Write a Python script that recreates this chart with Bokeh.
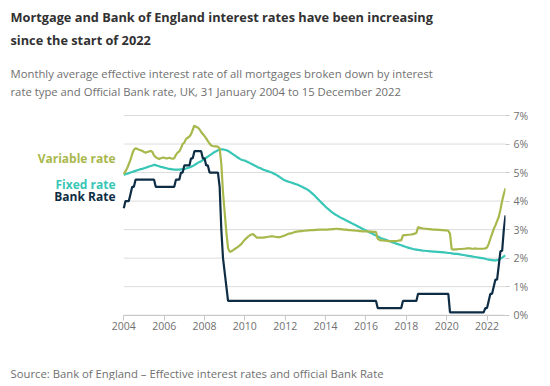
from bokeh.plotting import figure
from bokeh.models import Label, FixedTicker, Range1d, ColumnDataSource, CustomJSTickFormatter
from bokeh.embed import file_html
from bokeh.resources import INLINE

# Monthly values, January 2004 to December 2022 (one row per year)
start_year = 2004

variable_rate = [
    4.95, 5.05, 5.15, 5.30, 5.45, 5.65, 5.80, 5.85, 5.83, 5.80, 5.78, 5.76,  # 2004
    5.72, 5.70, 5.72, 5.74, 5.76, 5.72, 5.60, 5.54, 5.50, 5.48, 5.50, 5.52,  # 2005
    5.52, 5.50, 5.50, 5.52, 5.50, 5.49, 5.50, 5.62, 5.70, 5.74, 5.85, 6.00,  # 2006
    6.05, 6.18, 6.22, 6.26, 6.35, 6.50, 6.65, 6.60, 6.58, 6.52, 6.42, 6.35,  # 2007
    6.28, 6.20, 6.10, 6.02, 5.95, 5.93, 5.92, 5.92, 5.90, 5.85, 5.30, 4.30,  # 2008
    3.60, 2.90, 2.35, 2.22, 2.24, 2.28, 2.32, 2.36, 2.40, 2.45, 2.50, 2.58,  # 2009
    2.65, 2.70, 2.76, 2.80, 2.83, 2.84, 2.78, 2.72, 2.72, 2.72, 2.72, 2.72,  # 2010
    2.73, 2.74, 2.75, 2.76, 2.76, 2.76, 2.75, 2.74, 2.74, 2.74, 2.76, 2.78,  # 2011
    2.80, 2.83, 2.86, 2.86, 2.88, 2.90, 2.92, 2.93, 2.94, 2.95, 2.95, 2.96,  # 2012
    2.96, 2.97, 2.97, 2.98, 2.98, 2.98, 2.99, 2.99, 3.00, 3.00, 3.00, 3.00,  # 2013
    3.00, 3.00, 3.01, 3.01, 3.02, 3.02, 3.03, 3.03, 3.02, 3.02, 3.01, 3.00,  # 2014
    3.00, 2.99, 2.98, 2.98, 2.97, 2.97, 2.96, 2.96, 2.95, 2.95, 2.94, 2.94,  # 2015
    2.94, 2.94, 2.93, 2.93, 2.92, 2.92, 2.92, 2.68, 2.64, 2.62, 2.62, 2.61,  # 2016
    2.61, 2.60, 2.60, 2.60, 2.60, 2.60, 2.60, 2.61, 2.62, 2.62, 2.80, 2.81,  # 2017
    2.81, 2.82, 2.82, 2.83, 2.84, 2.86, 2.88, 3.09, 3.06, 3.05, 3.04, 3.03,  # 2018
    3.03, 3.02, 3.02, 3.01, 3.00, 3.00, 3.00, 2.99, 2.99, 2.98, 2.98, 2.97,  # 2019
    2.97, 2.96, 2.85, 2.32, 2.30, 2.31, 2.31, 2.32, 2.32, 2.32, 2.33, 2.33,  # 2020
    2.34, 2.34, 2.34, 2.33, 2.33, 2.34, 2.33, 2.33, 2.33, 2.33, 2.33, 2.34,  # 2021
    2.37, 2.50, 2.68, 2.85, 3.02, 3.15, 3.30, 3.45, 3.70, 4.00, 4.25, 4.45,  # 2022
]

fixed_rate = [
    4.92, 4.94, 4.96, 4.98, 5.00, 5.02, 5.04, 5.06, 5.08, 5.10, 5.12, 5.13,  # 2004
    5.15, 5.17, 5.19, 5.21, 5.23, 5.25, 5.27, 5.26, 5.24, 5.22, 5.20, 5.19,  # 2005
    5.17, 5.16, 5.14, 5.13, 5.12, 5.11, 5.10, 5.10, 5.10, 5.10, 5.11, 5.12,  # 2006
    5.13, 5.14, 5.16, 5.18, 5.20, 5.23, 5.26, 5.30, 5.34, 5.37, 5.40, 5.44,  # 2007
    5.48, 5.52, 5.56, 5.60, 5.64, 5.68, 5.72, 5.75, 5.78, 5.80, 5.81, 5.81,  # 2008
    5.80, 5.78, 5.76, 5.72, 5.68, 5.64, 5.60, 5.56, 5.52, 5.48, 5.45, 5.43,  # 2009
    5.42, 5.39, 5.36, 5.33, 5.30, 5.27, 5.24, 5.21, 5.18, 5.16, 5.13, 5.10,  # 2010
    5.08, 5.06, 5.04, 5.02, 5.00, 4.97, 4.94, 4.91, 4.87, 4.83, 4.79, 4.75,  # 2011
    4.72, 4.70, 4.68, 4.66, 4.64, 4.62, 4.60, 4.58, 4.56, 4.53, 4.50, 4.47,  # 2012
    4.44, 4.41, 4.37, 4.32, 4.27, 4.22, 4.16, 4.10, 4.04, 3.98, 3.92, 3.86,  # 2013
    3.80, 3.75, 3.70, 3.65, 3.60, 3.56, 3.52, 3.49, 3.45, 3.42, 3.39, 3.36,  # 2014
    3.33, 3.30, 3.27, 3.24, 3.21, 3.18, 3.15, 3.12, 3.09, 3.06, 3.03, 3.00,  # 2015
    2.97, 2.94, 2.91, 2.88, 2.85, 2.82, 2.79, 2.76, 2.73, 2.70, 2.68, 2.66,  # 2016
    2.64, 2.62, 2.60, 2.57, 2.55, 2.53, 2.51, 2.49, 2.47, 2.45, 2.43, 2.41,  # 2017
    2.39, 2.37, 2.35, 2.34, 2.32, 2.31, 2.30, 2.29, 2.28, 2.27, 2.26, 2.26,  # 2018
    2.25, 2.25, 2.24, 2.24, 2.23, 2.23, 2.22, 2.22, 2.21, 2.21, 2.20, 2.20,  # 2019
    2.19, 2.18, 2.18, 2.17, 2.16, 2.15, 2.15, 2.14, 2.13, 2.12, 2.11, 2.10,  # 2020
    2.09, 2.08, 2.07, 2.06, 2.05, 2.04, 2.03, 2.02, 2.01, 2.00, 1.99, 1.98,  # 2021
    1.96, 1.95, 1.94, 1.93, 1.92, 1.92, 1.93, 1.95, 1.98, 2.02, 2.06, 2.10,  # 2022
]

bank_rate = [
    3.75, 4.00, 4.00, 4.00, 4.25, 4.50, 4.50, 4.75, 4.75, 4.75, 4.75, 4.75,  # 2004
    4.75, 4.75, 4.75, 4.75, 4.75, 4.75, 4.75, 4.50, 4.50, 4.50, 4.50, 4.50,  # 2005
    4.50, 4.50, 4.50, 4.50, 4.50, 4.50, 4.50, 4.75, 4.75, 4.75, 5.00, 5.00,  # 2006
    5.25, 5.25, 5.25, 5.25, 5.50, 5.50, 5.75, 5.75, 5.75, 5.75, 5.75, 5.50,  # 2007
    5.50, 5.25, 5.25, 5.00, 5.00, 5.00, 5.00, 5.00, 5.00, 4.50, 3.00, 2.00,  # 2008
    1.50, 1.00, 0.50, 0.50, 0.50, 0.50, 0.50, 0.50, 0.50, 0.50, 0.50, 0.50,  # 2009
    0.50, 0.50, 0.50, 0.50, 0.50, 0.50, 0.50, 0.50, 0.50, 0.50, 0.50, 0.50,  # 2010
    0.50, 0.50, 0.50, 0.50, 0.50, 0.50, 0.50, 0.50, 0.50, 0.50, 0.50, 0.50,  # 2011
    0.50, 0.50, 0.50, 0.50, 0.50, 0.50, 0.50, 0.50, 0.50, 0.50, 0.50, 0.50,  # 2012
    0.50, 0.50, 0.50, 0.50, 0.50, 0.50, 0.50, 0.50, 0.50, 0.50, 0.50, 0.50,  # 2013
    0.50, 0.50, 0.50, 0.50, 0.50, 0.50, 0.50, 0.50, 0.50, 0.50, 0.50, 0.50,  # 2014
    0.50, 0.50, 0.50, 0.50, 0.50, 0.50, 0.50, 0.50, 0.50, 0.50, 0.50, 0.50,  # 2015
    0.50, 0.50, 0.50, 0.50, 0.50, 0.50, 0.50, 0.25, 0.25, 0.25, 0.25, 0.25,  # 2016
    0.25, 0.25, 0.25, 0.25, 0.25, 0.25, 0.25, 0.25, 0.25, 0.25, 0.50, 0.50,  # 2017
    0.50, 0.50, 0.50, 0.50, 0.50, 0.50, 0.50, 0.75, 0.75, 0.75, 0.75, 0.75,  # 2018
    0.75, 0.75, 0.75, 0.75, 0.75, 0.75, 0.75, 0.75, 0.75, 0.75, 0.75, 0.75,  # 2019
    0.75, 0.75, 0.10, 0.10, 0.10, 0.10, 0.10, 0.10, 0.10, 0.10, 0.10, 0.10,  # 2020
    0.10, 0.10, 0.10, 0.10, 0.10, 0.10, 0.10, 0.10, 0.10, 0.10, 0.10, 0.25,  # 2021
    0.25, 0.50, 0.75, 0.75, 1.00, 1.25, 1.25, 1.75, 2.25, 2.25, 3.00, 3.50,  # 2022
]

year_ticks = [2004, 2006, 2008, 2010, 2012, 2014, 2016, 2018, 2020, 2022]
pct_ticks = [0, 1, 2, 3, 4, 5, 6, 7]

title_lines = ["Mortgage and Bank of England interest rates have been increasing",
               "since the start of 2022"]
subtitle_lines = ["Monthly average effective interest rate of all mortgages broken down by interest",
                  "rate type and Official Bank rate, UK, 31 January 2004 to 15 December 2022"]
source_text = "Source: Bank of England \u2013 Effective interest rates and official Bank Rate"

# x positions: month index -> fractional year
months = [start_year + i / 12 for i in range(len(bank_rate))]

C_VAR = "#a9b84c"
C_FIX = "#38c6b6"
C_BANK = "#0e2d45"
GREY = "#707070"
FONT = "Open Sans"

W, H = 534, 380
# chart area (figure pixels): where Jan 2004 / Dec 2022 and 0% / 7% fall
PX_L, PX_R = 123.3, 505
PY_TOP, PY_BOT = 115, 314.7
FW, FH = PX_R, H                 # frame covers figure from (0,0) to the right axis

x0, x1 = months[0], months[-1]
kx = (x1 - x0) / (PX_R - PX_L)
ky = 7.0 / (PY_BOT - PY_TOP)
xs = x0 - PX_L * kx
ye = 7.0 + PY_TOP * ky
ys = 7.0 - (FH - PY_TOP) * ky

p = figure(frame_width=int(FW), frame_height=FH, output_backend="svg", toolbar_location=None,
           x_range=Range1d(xs, x1), y_range=Range1d(ys, ye),
           y_axis_location="right", min_border_left=0, min_border_right=W - int(FW),
           min_border_top=0, min_border_bottom=0, title=None)
p.outline_line_color = None
p.background_fill_color = "white"
p.border_fill_color = "white"

# horizontal gridlines only over the data area
p.segment(x0=[x0] * len(pct_ticks), x1=[x1] * len(pct_ticks), y0=pct_ticks, y1=pct_ticks,
          line_color="#dcdcdc", line_width=1)

src = ColumnDataSource(dict(x=months, var=variable_rate, fix=fixed_rate, bank=bank_rate))
p.line("x", "fix", source=src, color=C_FIX, line_width=2.2)
p.line("x", "var", source=src, color=C_VAR, line_width=2.2)
p.line("x", "bank", source=src, color=C_BANK, line_width=2.2)

p.xgrid.visible = False
p.ygrid.visible = False

xa = p.xaxis[0]
xa.fixed_location = 0
xa.ticker = FixedTicker(ticks=year_ticks)
xa.bounds = (x0, x1)
xa.axis_line_color = "#c8c8c8"
xa.major_tick_line_color = "#c8c8c8"
xa.major_tick_out = 5
xa.major_tick_in = 0
xa.minor_tick_line_color = None
xa.major_label_text_font = FONT
xa.major_label_text_font_size = "10.5px"
xa.major_label_text_color = GREY
xa.major_label_standoff = 2

ya = p.yaxis[0]
ya.ticker = FixedTicker(ticks=pct_ticks)
ya.bounds = (0, 7)
ya.formatter = CustomJSTickFormatter(code="return tick + '%';")
ya.axis_line_color = None
ya.major_tick_line_color = "#c8c8c8"
ya.major_tick_out = 4
ya.major_tick_in = 0
ya.minor_tick_line_color = None
ya.major_label_text_font = FONT
ya.major_label_text_font_size = "10.5px"
ya.major_label_text_color = GREY
ya.major_label_standoff = 4


def dx(px):
    return xs + px * kx


def dy(py):
    return ye - py * ky


def add_text(txt, px, py, size, color, style="normal", align="left", base="alphabetic"):
    p.add_layout(Label(x=dx(px), y=dy(py), text=txt, text_font=FONT,
                       text_font_size=size, text_color=color, text_font_style=style,
                       text_align=align, text_baseline=base))


add_text(title_lines[0], 10, 16.5, "12.75px", "#323132", "bold")
add_text(title_lines[1], 10, 39.5, "12.75px", "#323132", "bold")
add_text(subtitle_lines[0], 10, 73, "11.3px", GREY)
add_text(subtitle_lines[1], 10, 90.5, "11.3px", GREY)
add_text(source_text, 10, 373, "11.3px", GREY)

add_text("Variable rate", 115, 158, "12px", C_VAR, "bold", "right", "middle")
add_text("Fixed rate", 115, 183.5, "12px", C_FIX, "bold", "right", "middle")
add_text("Bank Rate", 115, 195.5, "12px", C_BANK, "bold", "right", "middle")

open("out.html", "w").write(file_html(p, INLINE))
